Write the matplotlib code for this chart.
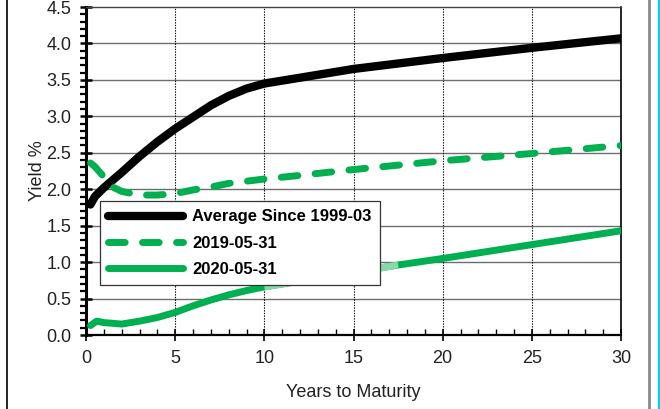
import matplotlib
matplotlib.use("Agg")
import matplotlib.pyplot as plt
from matplotlib.lines import Line2D
from matplotlib.ticker import MultipleLocator

plt.rcParams['font.family'] = ['Liberation Sans', 'DejaVu Sans']

# ---- data ----
yrs_avg = [0.25, 0.5, 1, 2, 3, 4, 5, 6, 7, 8, 9, 10, 12, 15, 20, 25, 30]
avg_since_1999 = [1.79, 1.90, 2.02, 2.23, 2.45, 2.65, 2.83, 2.99, 3.15, 3.28, 3.38, 3.45, 3.53, 3.65, 3.80, 3.94, 4.07]

yrs_2019 = [0.25, 0.5, 1, 1.5, 2, 3, 4, 5, 6, 7, 8, 9, 10, 12, 15, 20, 25, 30]
y_2019 = [2.36, 2.31, 2.17, 2.03, 1.97, 1.92, 1.92, 1.94, 1.99, 2.03, 2.08, 2.11, 2.14, 2.19, 2.27, 2.39, 2.49, 2.60]

yrs_2020 = [0.25, 0.6, 1, 2, 3, 4, 5, 6, 7, 8, 9, 10, 12, 15, 17.5, 20, 25, 30]
y_2020 = [0.13, 0.19, 0.17, 0.15, 0.19, 0.24, 0.31, 0.40, 0.48, 0.55, 0.61, 0.66, 0.74, 0.86, 0.96, 1.05, 1.24, 1.43]

labels = ["Average Since 1999-03", "2019-05-31", "2020-05-31"]
x_ticks = [0, 5, 10, 15, 20, 25, 30]
y_ticks = [0.0, 0.5, 1.0, 1.5, 2.0, 2.5, 3.0, 3.5, 4.0, 4.5]

GREEN = "#00B050"
LIGHT_GREEN = "#86D9AA"
FS = 13

fig = plt.figure(figsize=(6.60, 4.09), dpi=100)
ax = fig.add_axes([86/660, 1-335/409, (621-86)/660, (335-7)/409])

ax.set_xlim(0, 30)
ax.set_ylim(0, 4.5)
ax.set_xticks(x_ticks)
ax.set_yticks(y_ticks)
ax.set_yticklabels([f"{v:.1f}" for v in y_ticks])
ax.xaxis.set_minor_locator(MultipleLocator(1))
ax.yaxis.set_minor_locator(MultipleLocator(0.1))

# grid
for v in y_ticks[1:-1]:
    ax.axhline(v, color="#6e6e6e", lw=1.0, zorder=1)
for v in x_ticks[1:-1]:
    ax.axvline(v, color="black", lw=0.8, ls=(0, (1.2, 1.2)), zorder=1)

ax.plot(yrs_avg, avg_since_1999, color="black", lw=6.0, solid_capstyle="round",
        solid_joinstyle="round", zorder=4, label=labels[0])
ax.plot(yrs_2019, y_2019, color=GREEN, lw=5.0, ls=(0, (2.4, 2.5)),
        dash_capstyle="round", dash_joinstyle="round", zorder=4, label=labels[1])
ax.plot(yrs_2020, y_2020, color=GREEN, lw=5.0, solid_capstyle="round",
        solid_joinstyle="round", zorder=4, label=labels[2])
# lighter rendered stretch of the 2020 curve
i0, i1 = yrs_2020.index(10), yrs_2020.index(17.5)
ax.plot(yrs_2020[i0:i1+1], y_2020[i0:i1+1], color=LIGHT_GREEN, lw=5.0,
        solid_capstyle="butt", zorder=4.5)

# spines
ax.spines['left'].set_linewidth(2.2)
ax.spines['bottom'].set_linewidth(1.6)
ax.spines['top'].set_linewidth(1.0)
ax.spines['right'].set_linewidth(1.2)
ax.spines['top'].set_color("#444444")

ax.tick_params(axis='y', which='major', direction='inout', length=9, width=1.8,
               labelsize=FS, pad=6, colors="black")
ax.tick_params(axis='y', which='minor', direction='out', length=4, width=1.6)
ax.tick_params(axis='x', which='major', direction='inout', length=8, width=1.2,
               labelsize=FS, pad=7)
ax.tick_params(axis='x', which='minor', direction='in', length=4, width=1.0)
for lab in ax.get_yticklabels() + ax.get_xticklabels():
    lab.set_color("#222222")

ax.set_xlabel("Years to Maturity", fontsize=FS, labelpad=12, color="#222222")
ax.set_ylabel("Yield %", fontsize=FS, labelpad=0, color="#222222")

leg = ax.legend(loc="upper left", bbox_to_anchor=((100-86)/535, (335-201)/328),
                borderaxespad=0, fancybox=False, framealpha=1, edgecolor="#333333",
                handlelength=4.5, handletextpad=0.55, labelspacing=0.68,
                borderpad=0.5, prop={'weight': 'bold', 'size': 12})
leg.get_frame().set_linewidth(0.9)
leg.set_zorder(5)

# figure frame lines
fig.add_artist(Line2D([7/660, 7/660], [0, 1], color="black", lw=1.2))
fig.add_artist(Line2D([649/660, 649/660], [0, 1], color="#8a8a8a", lw=2.0))
fig.add_artist(Line2D([659/660, 659/660], [0, 1], color="#12C8DA", lw=2.5))

fig.savefig("out.png", dpi=100)
